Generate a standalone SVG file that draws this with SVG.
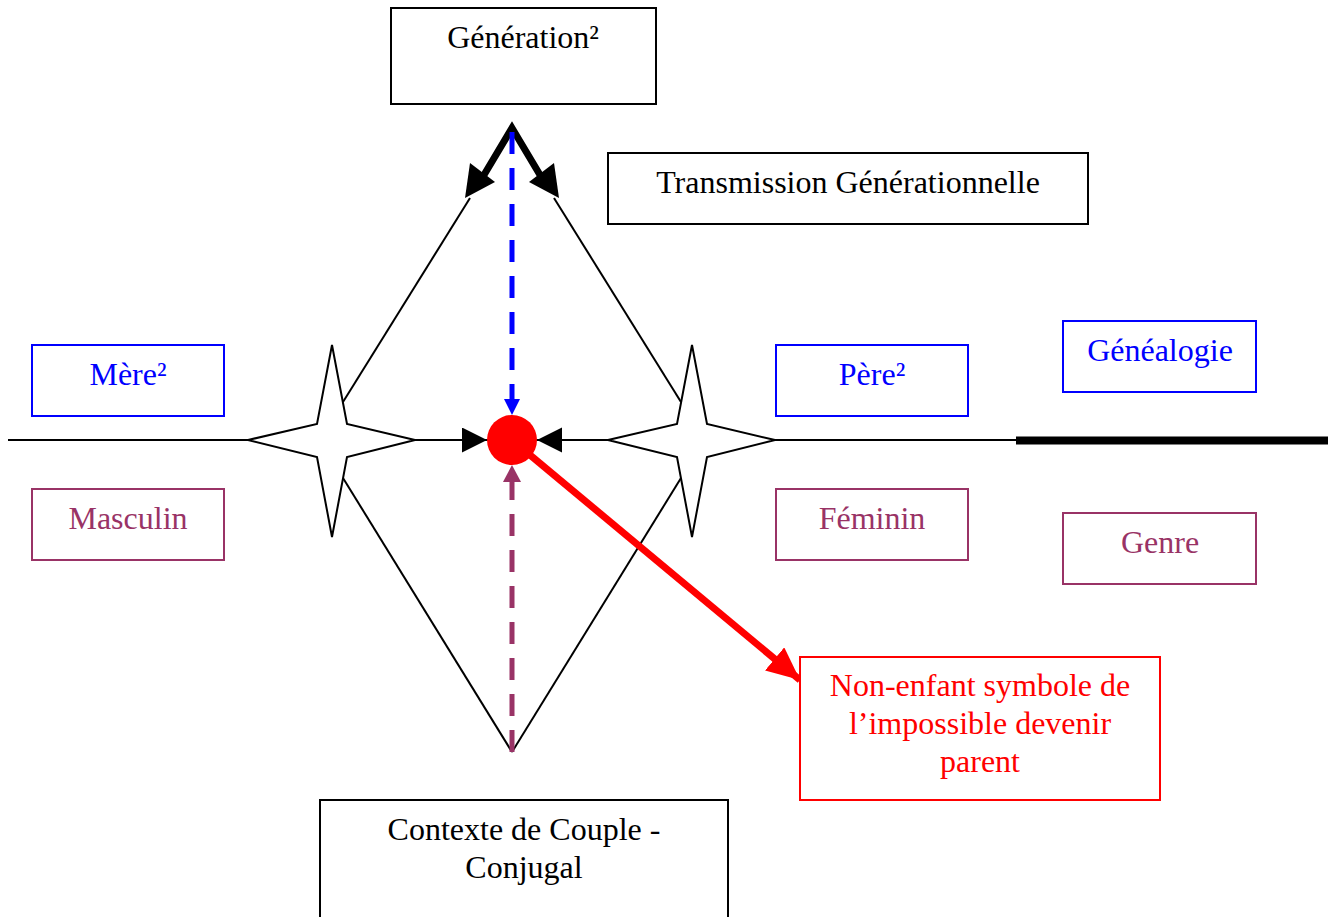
<svg xmlns="http://www.w3.org/2000/svg" width="1333" height="917" viewBox="0 0 1333 917">
<style>
text{font-family:"Liberation Serif","Times New Roman",serif;font-size:32px;text-anchor:middle}
.bk{fill:#fff;stroke:#000;stroke-width:2}
.bl{fill:#fff;stroke:#0000ff;stroke-width:2}
.pu{fill:#fff;stroke:#993366;stroke-width:2}
.rd{fill:#fff;stroke:#ff0000;stroke-width:2}
.tbk{fill:#000}.tbl{fill:#0000ff}.tpu{fill:#993366}.trd{fill:#ff0000}
.thin{stroke:#000;stroke-width:2;fill:none}
.star{fill:#fff;stroke:#000;stroke-width:2;stroke-linejoin:miter}
</style>
<defs>
<marker id="ab" markerUnits="userSpaceOnUse" markerWidth="30" markerHeight="30" refX="25" refY="12.5" orient="auto"><path d="M0,0 L25,12.5 L0,25 Z" fill="#000"/></marker>
<marker id="abl" markerUnits="userSpaceOnUse" markerWidth="20" markerHeight="20" refX="16" refY="8" orient="auto"><path d="M0,0 L16,8 L0,16 Z" fill="#0000ff"/></marker>
<marker id="apu" markerUnits="userSpaceOnUse" markerWidth="20" markerHeight="22" refX="17" refY="9" orient="auto"><path d="M0,0 L17,9 L0,18 Z" fill="#993366"/></marker>
<marker id="ard" markerUnits="userSpaceOnUse" markerWidth="36" markerHeight="36" refX="33" refY="15" orient="auto"><path d="M0,0 L33,15 L0,30 Z" fill="#ff0000"/></marker>
</defs>
<g id="connectors">
<line class="thin" x1="8" y1="440" x2="1016" y2="440"/>
<line x1="1016" y1="440.5" x2="1328" y2="440.5" stroke="#000" stroke-width="8"/>
<line class="thin" x1="343" y1="402" x2="470" y2="198"/>
<line class="thin" x1="681" y1="402" x2="554" y2="198"/>
<line class="thin" x1="343" y1="478" x2="512" y2="752"/>
<line class="thin" x1="681" y1="478" x2="512" y2="752"/>
<polyline points="478,185 512,128 546,185" fill="none" stroke="#000" stroke-width="7" stroke-linejoin="miter"/>
<path d="M465,198 L470,163 L495,182 Z" fill="#000"/>
<path d="M559,198 L554,163 L529,182 Z" fill="#000"/>
</g>
<g id="star-left"><path class="star" d="M332,345 L347,424 L415,440 L347,457 L332,537 L317,457 L248,440 L317,424 Z"/></g>
<g id="star-right"><path class="star" d="M692,345 L707,424 L775,440 L707,457 L692,537 L677,457 L608,440 L677,424 Z"/></g>
<g id="arrows">
<line x1="512" y1="132" x2="512" y2="415" stroke="#0000ff" stroke-width="5" stroke-dasharray="22,14" marker-end="url(#abl)"/>
<line x1="512" y1="752" x2="512" y2="465" stroke="#993366" stroke-width="5" stroke-dasharray="22,14" marker-end="url(#apu)"/>
<line x1="420" y1="440" x2="487" y2="440" stroke="#000" stroke-width="2" marker-end="url(#ab)"/>
<line x1="600" y1="440" x2="537" y2="440" stroke="#000" stroke-width="2" marker-end="url(#ab)"/>
<line x1="530" y1="455" x2="800" y2="680" stroke="#ff0000" stroke-width="7" marker-end="url(#ard)"/>
</g>
<g id="center"><circle cx="512" cy="440" r="25" fill="#ff0000"/></g>
<g id="generation"><rect class="bk" x="391" y="8" width="265" height="96"/><text class="tbk" x="523" y="48">Génération²</text></g>
<g id="transmission"><rect class="bk" x="608" y="153" width="480" height="71"/><text class="tbk" x="848" y="193">Transmission Générationnelle</text></g>
<g id="mere"><rect class="bl" x="32" y="345" width="192" height="71"/><text class="tbl" x="128" y="385">Mère²</text></g>
<g id="pere"><rect class="bl" x="776" y="345" width="192" height="71"/><text class="tbl" x="872" y="385">Père²</text></g>
<g id="genealogie"><rect class="bl" x="1063" y="321" width="193" height="71"/><text class="tbl" x="1160" y="361">Généalogie</text></g>
<g id="masculin"><rect class="pu" x="32" y="489" width="192" height="71"/><text class="tpu" x="128" y="529">Masculin</text></g>
<g id="feminin"><rect class="pu" x="776" y="489" width="192" height="71"/><text class="tpu" x="872" y="529">Féminin</text></g>
<g id="genre"><rect class="pu" x="1063" y="513" width="193" height="71"/><text class="tpu" x="1160" y="553">Genre</text></g>
<g id="nonenfant"><rect class="rd" x="800" y="657" width="360" height="143"/><text class="trd" x="980" y="696">Non-enfant symbole de</text><text class="trd" x="980" y="734">l’impossible devenir</text><text class="trd" x="980" y="772">parent</text></g>
<g id="contexte"><rect class="bk" x="320" y="800" width="408" height="130"/><text class="tbk" x="524" y="840">Contexte de Couple -</text><text class="tbk" x="524" y="878">Conjugal</text></g>
</svg>
